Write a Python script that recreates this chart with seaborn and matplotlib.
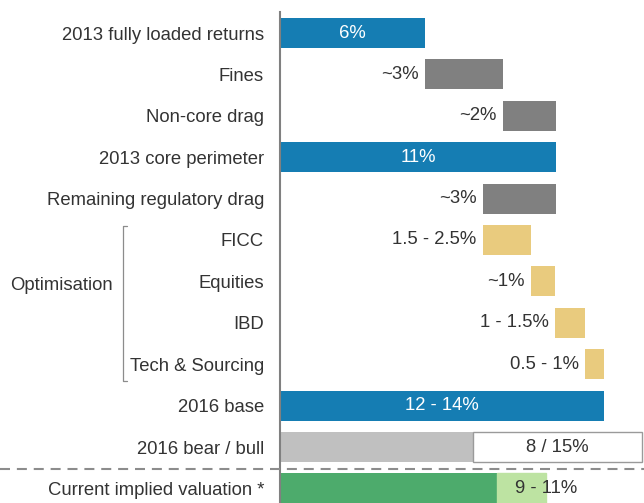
import numpy as np
import pandas as pd
import seaborn as sns
import matplotlib
matplotlib.use("Agg")
import matplotlib.pyplot as plt
from matplotlib.lines import Line2D

# ---- data ----
categories = ["2013 fully loaded returns", "Fines", "Non-core drag", "2013 core perimeter",
              "Remaining regulatory drag", "FICC", "Equities", "IBD", "Tech & Sourcing",
              "2016 base", "2016 bear / bull", "Current implied valuation *"]
seg_start = [0.0, 5.78, 8.87, 0.0, 8.09, 8.09, 10.0, 10.96, 12.16, 0.0, 0.0, 0.0]
seg_end = [5.78, 8.87, 11.0, 11.0, 11.0, 10.0, 10.96, 12.16, 12.91, 12.91, 7.69, 8.65]
seg_kind = ["total", "step", "step", "total", "step", "opt", "opt", "opt", "opt",
            "total", "bear", "implied"]
value_labels = ["6%", "~3%", "~2%", "11%", "~3%", "1.5 - 2.5%", "~1%", "1 - 1.5%",
                "0.5 - 1%", "12 - 14%", "8 / 15%", "9 - 11%"]
range_rows = ["2016 bear / bull", "Current implied valuation *"]
range_start = [7.69, 8.65]
range_end = [14.43, 10.6]

kind_colors = {"total": "#157db3", "step": "#808080", "opt": "#e9cb7e",
               "bear": "#c0c0c0", "implied": "#4dab6c"}
range_colors = ["#ffffff", "#bde3a2"]
range_edges = ["#9a9a9a", "#bde3a2"]
text_color = "#333333"

# ---- figure ----
sns.set_style("white")
plt.rcParams["font.family"] = ["Liberation Sans", "DejaVu Sans"]

W, H = 644, 503
fig = plt.figure(figsize=(W / 100, H / 100), dpi=100)
ax = fig.add_axes([280 / W, 0.0, 1 - 280 / W, 1 - 12 / H])

df = pd.DataFrame({"cat": categories,
                   "width": np.array(seg_end) - np.array(seg_start),
                   "left": seg_start})
bar_h = 0.725
sns.barplot(data=df, x="width", y="cat", order=categories, orient="h",
            left=df["left"].values, width=bar_h, color="#157db3",
            linewidth=0, ax=ax, errorbar=None)
n_main = len(ax.patches)
for p, k in zip(ax.patches[:n_main], seg_kind):
    p.set_facecolor(kind_colors[k])

df_r = pd.DataFrame({"cat": range_rows,
                     "width": np.array(range_end) - np.array(range_start),
                     "left": range_start})
sns.barplot(data=df_r, x="width", y="cat", order=categories, orient="h",
            left=df_r["left"].values, width=bar_h, color="#ffffff",
            linewidth=1.0, edgecolor="#9a9a9a", ax=ax, errorbar=None)
for p, fc, ec in zip(ax.patches[n_main:], range_colors, range_edges):
    p.set_facecolor(fc)
    p.set_edgecolor(ec)

# ---- value labels ----
fs = 13.3
for i, (lab, s, e, k) in enumerate(zip(value_labels, seg_start, seg_end, seg_kind)):
    if k == "total":
        ax.text((s + e) / 2, i, lab, ha="center", va="center", color="white", fontsize=fs)
    elif k in ("step", "opt"):
        ax.annotate(lab, xy=(s, i), xytext=(-4.5, 0), textcoords="offset points",
                    ha="right", va="center", color=text_color, fontsize=fs)
ri = categories.index(range_rows[0])
ax.text((range_start[0] + range_end[0]) / 2, ri, value_labels[ri], ha="center",
        va="center", color=text_color, fontsize=fs)
ri = categories.index(range_rows[1])
ax.text(range_end[1], ri, value_labels[ri], ha="center", va="center",
        color=text_color, fontsize=fs)

# ---- axes styling ----
ax.set_xlim(0, 364 / 25.09)
ax.set_ylim((503 - 33) / 41.4, -(33 - 12) / 41.4)
ax.set_xlabel("")
ax.set_ylabel("")
ax.set_xticks([])
ax.set_yticks(range(len(categories)))
ax.set_yticklabels(categories, fontsize=fs, color=text_color)
ax.tick_params(axis="y", length=0, pad=11.5)
for sp in ["top", "right", "bottom"]:
    ax.spines[sp].set_visible(False)
ax.spines["left"].set_color("#808080")
ax.spines["left"].set_linewidth(1.5)

# dashed separator across the whole figure
fig.add_artist(Line2D([0, 1], [1 - 469 / H, 1 - 469 / H], color="#8c8c8c",
                      lw=1.5, dashes=(4.8, 3.3), transform=fig.transFigure))

# Optimisation bracket and label
bx, bx2, by0, by1 = 123 / W, 127 / W, 1 - 226 / H, 1 - 381 / H
fig.add_artist(Line2D([bx2, bx, bx, bx2], [by0, by0, by1, by1], color="#8c8c8c",
                      lw=0.9, transform=fig.transFigure))
fig.text(10 / W, 1 - 286 / H, "Optimisation", ha="left", va="center",
         fontsize=fs, color=text_color)

fig.savefig("out.png", dpi=100)
